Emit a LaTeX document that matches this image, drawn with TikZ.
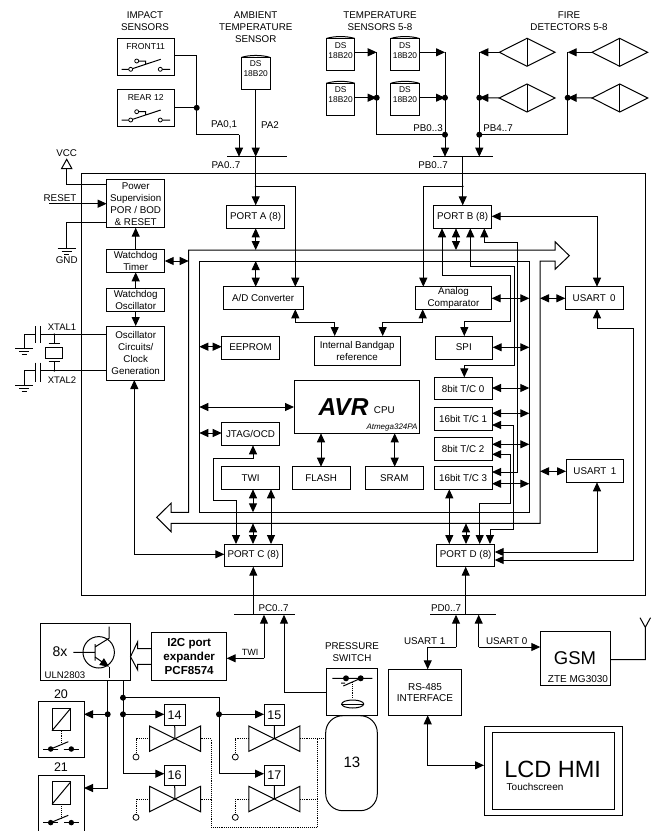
\documentclass[tikz,border=0pt]{standalone}
\usepackage{fontspec}
\setmainfont{Liberation Sans}
\usetikzlibrary{arrows.meta,calc,shapes.geometric}
\tikzset{
  x=1pt,y=-1pt,
  wire/.style={line width=1pt,line join=miter},
  ar/.style={wire,-{Triangle[length=9pt,width=8pt]}},
  db/.style={wire,{Triangle[length=9pt,width=8pt]}-{Triangle[length=9pt,width=8pt]}},
  bx/.style={draw,line width=1pt,inner sep=0pt,outer sep=0pt,align=center,font=\fontsize{9.8}{12}\selectfont},
  txt/.style={inner sep=0pt,outer sep=0pt,align=center,font=\fontsize{9.8}{12}\selectfont},
  small/.style={font=\fontsize{8.6}{10.5}\selectfont},
  jdot/.style={circle,fill=black,inner sep=0pt,minimum size=6pt},
  tinydot/.style={circle,fill=black,inner sep=0pt,minimum size=2pt},
  open/.style={draw,fill=white,line width=.8pt,circle,inner sep=0pt,minimum size=4pt},
  dot2/.style={line width=.9pt,densely dotted},
  thinl/.style={line width=1pt}
}
\newcommand\BX[7][]{\node[bx,minimum width={#5-#3},minimum height={#6-#4},#1] (#2) at ({(#3+#5)/2},{(#4+#6)/2}) {#7};}
\newcommand\TXT[5][]{\node[txt,#1] (#2) at (#3,#4) {#5};}
\newcommand\DSBOX[3]{%
  \BX{#1}{#2}{#3}{#2+28.6}{#3+32.4}{}
  \TXT[font=\fontsize{8.4}{10}\selectfont]{#1t}{#2+14.3}{#3+11.7}{DS\\18B20}
  \draw[wire] (#1.north west) .. controls ($(#1.north west)+(8,-2.6)$) and ($(#1.north east)+(-8,-2.6)$) .. (#1.north east);
}
\newcommand\FIRE[3]{%
  \node[inner sep=0pt,outer sep=0pt,minimum width=0pt] (#1) at (#2+27.7,#3) {};
  \coordinate (#1w) at (#2,#3);
  \draw[wire] (#2,#3) -- (#2+27.7,#3-14) -- (#2+55.7,#3) -- (#2+27.7,#3+14) -- cycle;
  \draw[wire] (#2+27.7,#3-14) -- (#2+27.7,#3+14);
}
\newcommand\SWITCH[1]{%
  \begin{scope}[yshift={-(#1)*1pt}]
  \draw[thinl] (121.7,69.3) -- (130.7,69.3) (133,68.5) -- (160.7,59.3) (160.3,69.3) -- (170,69.3) (136.7,61) -- (145.5,61) -- (145.5,64);
  \node[open] (sw#1a) at (130.7,69.3) {};
  \node[open] (sw#1b) at (136.7,61) {};
  \node[open] (sw#1c) at (160.3,69.3) {};
  \end{scope}
}
\newcommand\GNDSYM[3]{%
  \draw[wire] (#1-9,#2) -- (#1+9,#2);
  \draw[wire] (#1-5,#2+3) -- (#1+5,#2+3);
  \ifnum#3=1 \draw[wire] (#1-2.5,#2+6) -- (#1+2.5,#2+6);\fi
}
\newcommand\VALVE[5]{% name boxx boxy cx cy
  \BX[font=\fontsize{12.5}{14}\selectfont]{#1}{#2}{#3}{#2+20.8}{#3+20.6}{#1}
  \draw[wire] (#1.south) -- (#4,#5);
  \draw[wire] (#4-25.5,#5-12.7) -- (#4+25.5,#5+12.7) -- (#4+25.5,#5-12.7) -- (#4-25.5,#5+12.7) -- cycle;
  \draw[dot2] (#4-25.5,#5) -- (#4-39,#5) -- (#4-39,#5+15);
  \node[open,minimum size=6pt] (c#1) at (#4-39,#5+18.3) {};
}
\newcommand\RELAY[3]{% name top height
  \BX{#1}{38.3}{#2}{84}{#2+#3}{}
  \draw[wire] (52,#2+6.6) rectangle (70.7,#2+29);
  \draw[wire] (52,#2+29) -- (70.7,#2+6.6);
  \draw[dot2] (61,#2+29) -- (61,#2+43);
  \draw[thinl] (43.3,#2+47.3) -- (79.3,#2+47.3);
  \node[circle,fill=white,inner sep=0pt,minimum size=6pt] (g#1) at (61,#2+47.3) {};
  \draw[thinl] (50.7,#2+47.3) -- (68.3,#2+40);
  \node[jdot,minimum size=5.5pt] (l#1) at (50.7,#2+47.3) {};
  \node[jdot,minimum size=5.5pt] (r#1) at (71.3,#2+47.3) {};
}
\begin{document}
\begin{tikzpicture}
\useasboundingbox (0,0) rectangle (653,831);
\fill[white] (0,0) rectangle (653,831);

% outer frame
\draw[line width=1pt] (81,173.7) rectangle (645.7,595);

% buses
\draw[line width=1pt,line join=miter] (171,512.3) -- (188.7,512.3) -- (188.7,250) -- (555,250) -- (555,241.7) -- (569.3,255.7) -- (555,269.3) -- (555,261) -- (540,261) -- (540,523.3) -- (171,523.3) -- (171,531.7) -- (156.7,517.3) -- (171,503.3) -- cycle;
\draw[line width=1pt] (199.3,261) rectangle (529.3,512.3);

% titles
\TXT{t1}{145}{21}{IMPACT\\SENSORS}
\TXT{t2}{255.7}{27}{AMBIENT\\TEMPERATURE\\SENSOR}
\TXT{t3}{380}{21}{TEMPERATURE\\SENSORS 5-8}
\TXT{t4}{569}{21}{FIRE\\DETECTORS 5-8}

% sensors
\BX{front}{117.3}{38.7}{174}{75.7}{}
\TXT[small]{frontl}{145.7}{46.3}{FRONT11}
\BX{rear}{117.3}{89.3}{174}{126.3}{}
\TXT[small]{rearl}{145.7}{97}{REAR 12}
\SWITCH{0}
\SWITCH{50.7}
\DSBOX{dsa}{241.4}{57.4}
\DSBOX{dsb}{326.3}{38.5}
\DSBOX{dsc}{390.7}{38.5}
\DSBOX{dsd}{326.3}{83.3}
\DSBOX{dse}{390.7}{83.3}
\FIRE{fa}{499.3}{52.3}
\FIRE{fb}{499.3}{98}
\FIRE{fc}{592}{52.3}
\FIRE{fd}{592}{98}

% main blocks
\BX{pws}{106.7}{179.7}{164.7}{227.7}{Power\\Supervision\\POR / BOD\\\& RESET}
\BX{wdt}{106.7}{249.7}{164.7}{272.3}{Watchdog\\Timer}
\BX{wdo}{106.7}{288.3}{164.7}{311.3}{Watchdog\\Oscillator}
\BX{osc}{106.7}{326}{164.7}{380}{Oscillator\\Circuits/\\Clock\\Generation}
\BX{porta}{226.7}{205.3}{284.7}{228.3}{PORT A (8)}
\BX{portb}{433.7}{205.3}{491.7}{228.3}{PORT B (8)}
\BX{portc}{224.3}{544}{282.3}{566.7}{PORT C (8)}
\BX{portd}{436.7}{544}{494.7}{566.7}{PORT D (8)}
\BX{adc}{223.3}{286.7}{303}{309.3}{A/D Converter}
\BX{acmp}{415.3}{286.7}{491.7}{309.3}{Analog\\Comparator}
\BX{eep}{221.7}{336}{279.3}{359}{EEPROM}
\BX{bg}{314.3}{336}{400}{365.7}{Internal Bandgap\\reference}
\BX{spi}{435}{336}{492.7}{359}{SPI}
\BX{cpu}{294}{380.7}{419.3}{433.3}{}
\TXT{avr}{343.5}{406.7}{\fontsize{24.5}{25}\selectfont\bfseries\itshape AVR}
\TXT{cput}{384.3}{410}{CPU}
\TXT[anchor=east,font=\fontsize{8}{10}\selectfont\itshape]{atm}{417.5}{427.5}{Atmega324PA}
\BX{jtag}{221.7}{422.7}{279.3}{445.3}{JTAG/OCD}
\BX{twi}{221.7}{466.7}{279.3}{489.3}{TWI}
\BX{flash}{292.3}{466.7}{350}{489.3}{FLASH}
\BX{sram}{365.3}{466.7}{423.3}{489.3}{SRAM}
\BX{tc0}{434.3}{377.3}{492}{399.7}{8bit T/C 0}
\BX{tc1}{434.3}{407.3}{492}{430}{16bit T/C 1}
\BX{tc2}{434.3}{437.7}{492}{460}{8bit T/C 2}
\BX{tc3}{434.3}{466.7}{492}{489.3}{16bit T/C 3}
\BX{ua0}{565.3}{286.7}{623}{309.3}{USART\, 0}
\BX{ua1}{566}{459.7}{623.7}{482.3}{USART\, 1}

% port buses
\coordinate (pal) at (227.3,156.7); \coordinate (par) at (286.7,156.7);
\coordinate (pbl) at (433.3,156.7); \coordinate (pbr) at (493.3,156.7);
\coordinate (pcl) at (234.3,614.7); \coordinate (pcr) at (294.7,614.7);
\coordinate (pdl) at (430,614.7);   \coordinate (pdr) at (495.7,614.7);
\draw[wire] (pal) -- (par) (pbl) -- (pbr) (pcl) -- (pcr) (pdl) -- (pdr);
\TXT{la}{224}{125}{PA0,1}
\TXT{lb}{270}{125}{PA2}
\TXT{lc}{226}{165}{PA0..7}
\TXT{ld}{428}{128}{PB0..3}
\TXT{le}{498}{128}{PB4..7}
\TXT{lf}{433}{165}{PB0..7}
\TXT{lg}{273.5}{608}{PC0..7}
\TXT{lh}{446}{608}{PD0..7}

% sensor wiring
\draw[wire] (front.east |- 0,55) -- (196.7,55) -- (196.7,134.5) -- (239,134.5);
\draw[ar] (239,134.5) -- (pal -| 239,0);
\draw[wire] (rear.east) -- (196.7,107.8);
\node[jdot] (j1) at (196.7,107.8) {};
\draw[ar] (dsa.south) -- (par -| dsa.south);
\draw[ar] (pal -| dsa.south) -- (porta.north);
\node[tinydot] (j2) at (255.7,186.3) {};
\draw[ar] (j2.center) -- (295.3,186.3) -- (adc.north -| 295.3,0);

\draw[ar] (dsb.east |- 0,52.3) -- (376.7,52.3);
\draw[ar] (dsd.east |- 0,97.7) -- (376.7,97.7);
\draw[wire] (376.7,52.3) -- (376.7,134.7) -- (445,134.7);
\draw[ar] (dsc.east |- 0,52.3) -- (445,52.3);
\draw[ar] (dse.east |- 0,97.7) -- (445,97.7);
\draw[wire] (445,52.3) -- (445,134.7);
\node[jdot] (j3) at (376.7,97.7) {};
\node[jdot] (j4) at (445,97.7) {};
\node[jdot] (j5) at (445,134.7) {};
\draw[ar] (j5.center) -- (pbl -| 445,0);

\draw[ar] (faw) -- (479.3,52.3);
\draw[ar] (fbw) -- (479.3,97.7);
\draw[ar] (fcw) -- (567.7,52.3);
\draw[ar] (fdw) -- (567.7,97.7);
\draw[wire] (479.3,52.3) -- (479.3,134.7);
\draw[wire] (567.7,52.3) -- (567.7,134.7) -- (479.3,134.7);
\node[jdot] (j6) at (479.3,97.7) {};
\node[jdot] (j7) at (567.7,97.7) {};
\node[jdot] (j8) at (479.3,134.7) {};
\draw[ar] (j8.center) -- (pbl -| 479.3,0);

\draw[ar] (pbl -| portb.north) -- (portb.north);
\node[tinydot] (j9) at (462.7,186.3) {};
\draw[ar] (j9.center) -- (423.3,186.3) -- (acmp.north -| 423.3,0);

% power
\draw[line width=1pt] (61.5,168.7) -- (66.7,159.3) -- (71.9,168.7) -- cycle;
\TXT{vcc}{66.7}{153}{VCC}
\draw[wire] (66.7,168.7) -- (66.7,184) -- (pws.west |- 0,184);
\TXT{rst}{60}{198}{RESET}
\coordinate (rsts) at (49.3,203.7);
\draw[ar] (rsts) -- (pws.west |- rsts);
\draw[wire] (pws.west |- 0,222) -- (66.7,222) -- (66.7,248.3);
\GNDSYM{66.7}{248.3}{1}
\TXT{gnd}{66.7}{260.5}{GND}
\draw[ar] (wdt.north) -- (pws.south);
\draw[ar] (wdo.north) -- (wdt.south);
\draw[ar] (wdo.south) -- (osc.north);
\draw[db] (wdt.east) -- (188.7,261);

% crystal
\draw[wire] (osc.west |- 0,334.3) -- (40.7,334.3) (40.7,326) -- (40.7,343.3) (35,326) -- (35,343.3) (35,334.3) -- (24,334.3) -- (24,348.3);
\draw[wire] (osc.west |- 0,370.7) -- (40.7,370.7) (40.7,362.5) -- (40.7,381.5) (35,362.5) -- (35,381.5) (35,370.7) -- (24,370.7) -- (24,385);
\GNDSYM{24}{348.3}{1}
\GNDSYM{24}{385}{1}
\draw[wire] (54.3,334.3) -- (54.3,343.3) (48.5,343.3) -- (60,343.3) (48.5,361.7) -- (60,361.7) (54.3,361.7) -- (54.3,370.7);
\node[draw,line width=1pt,minimum width=17pt,minimum height=10.6pt,inner sep=0pt] (xt) at (54.2,353) {};
\node[tinydot] (j10) at (54.3,334.3) {};
\node[tinydot] (j11) at (54.3,370.7) {};
\TXT[font=\fontsize{9.5}{11}\selectfont]{x1}{62}{327}{XTAL1}
\TXT[font=\fontsize{9.5}{11}\selectfont]{x2}{62}{380}{XTAL2}
\draw[db] (osc.south -| 134.3,0) -- (134.3,554.3) -- (portc.west |- 0,554.3);

% left column
\draw[db] (porta.south) -- (255.7,250);
\draw[db] (255.7,261) -- (adc.north -| 255.7,0);
\draw[db] (199.3,346.7) -- (eep.west |- 0,346.7);
\draw[db] (199.3,433) -- (jtag.west |- 0,433);
\draw[db] (199.3,407) -- (cpu.west |- 0,407);
\draw[db] (cpu.south -| 321,0) -- (flash.north -| 321,0);
\draw[db] (cpu.south -| 394.7,0) -- (sram.north -| 394.7,0);
\draw[db] (adc.south -| 295.3,0) -- (295.3,322.7) -- (334.7,322.7) -- (bg.north -| 334.7,0);
\draw[db] (acmp.south -| 422.7,0) -- (422.7,322.7) -- (382.7,322.7) -- (bg.north -| 382.7,0);
\draw[db] (jtag.south -| 253,0) -- (253,458.7) -- (213.3,458.7) -- (213.3,500.7) -- (236,500.7) -- (portc.north -| 236,0);
\draw[db] (twi.south -| 253,0) -- (253,512.3);
\draw[db] (twi.south -| 271,0) -- (portc.north -| 271,0);
\draw[db] (253,523.3) -- (portc.north -| 253,0);

% port B
\draw[db] (portb.south -| 442,0) -- (442,275) -- (510,275) -- (510,321.7) -- (464.3,321.7) -- (spi.north -| 464.3,0);
\draw[db] (portb.south -| 456,0) -- (456,250);
\draw[db] (portb.south -| 470.3,0) -- (470.3,266.7) -- (514,266.7) -- (514,365.7) -- (464.3,365.7) -- (tc0.north -| 464.3,0);
\draw[db] (portb.south -| 484.3,0) -- (484.3,242.7) -- (517.3,242.7) -- (517.3,472) -- (tc3.east |- 0,472);
\draw[db] (portb.east |- 0,216.3) -- (597,216.3) -- (ua0.north -| 597,0);

% right column
\draw[db] (acmp.east |- 0,298.3) -- (529.3,298.3);
\draw[db] (spi.east |- 0,347.3) -- (529.3,347.3);
\draw[db] (tc0.east |- 0,388) -- (529.3,388);
\draw[db] (tc1.east |- 0,413.3) -- (529.3,413.3);
\draw[db] (tc2.east |- 0,444.3) -- (529.3,444.3);
\draw[db] (tc3.east |- 0,483.7) -- (529.3,483.7);
\draw[db] (tc1.east |- 0,425) -- (513.7,425) -- (513.7,529.7) -- (490,529.7) -- (portd.north -| 490,0);
\draw[db] (tc2.east |- 0,454.3) -- (510,454.3) -- (510,503.3) -- (479.7,503.3) -- (portd.north -| 479.7,0);
\draw[db] (tc3.south -| 449.3,0) -- (portd.north -| 449.3,0);
\draw[db] (466,523.3) -- (portd.north -| 466,0);
\draw[db] (540,298.3) -- (ua0.west |- 0,298.3);
\draw[db] (540,471.3) -- (ua1.west |- 0,471.3);
\draw[db] (portd.east |- 0,552) -- (597,552) -- (ua1.south -| 597,0);
\draw[db] (portd.east |- 0,560) -- (633.7,560) -- (633.7,328.3) -- (597,328.3) -- (ua0.south -| 597,0);

% below ports
\draw[ar] (pcl -| portc.south) -- (portc.south);
\draw[ar] (pdl -| portd.south) -- (portd.south);

% ULN and expander
\BX{uln}{40}{623.3}{130.3}{680.7}{}
\BX[font=\fontsize{11.6}{14}\selectfont\bfseries]{pcf}{151.7}{632.7}{226.7}{680.7}{I2C port\\expander\\PCF8574}
\TXT[font=\fontsize{14}{14}\selectfont]{x8}{60}{651.5}{8x}
\TXT[font=\fontsize{9.6}{11}\selectfont]{ulnl}{65}{675}{ULN2803}
\node[draw,circle,line width=1pt,minimum size=31.4pt,inner sep=0pt] (q) at (98.7,652.3) {};
\draw[wire] (73.3,652.3) -- (95,652.3) (95,644) -- (95,660.7) (95,647) -- (109,638.3) -- (109,626.7);
\draw[wire] (109,666.7) -- (109,678);
\draw[ar] (95,657) -- (109,666.7);
\draw[line width=1pt,line join=miter] (pcf.west |- 0,648.7) -- (137.7,648.7) -- (137.7,641.7) -- (130.5,656.7) -- (137.7,670) -- (137.7,664.3) -- (pcf.west |- 0,664.3);
\draw[ar] (264,658.3) -- (pcl -| 264,0);
\draw[ar] (264,658.3) -- (pcf.east |- 0,658.3);
\TXT[font=\fontsize{9}{11}\selectfont]{twil}{250}{652}{TWI}

% relays
\TXT[font=\fontsize{12.5}{14}\selectfont]{r20t}{61}{694}{20}
\TXT[font=\fontsize{12.5}{14}\selectfont]{r21t}{61}{767}{21}
\RELAY{rel20}{701.7}{55.6}
\RELAY{rel21}{775.3}{56}
\draw[ar] (uln.south -| 107.7,0) -- (107.7,788) -- (rel21.east |- 0,788);
\node[jdot] (j12) at (107.7,714.3) {};
\draw[ar] (j12.center) -- (rel20.east |- 0,714.3);

% valves
\VALVE{14}{164.3}{704.6}{175}{738.7}
\VALVE{15}{264}{704.6}{274.3}{738.7}
\VALVE{16}{164.3}{765}{175}{799}
\VALVE{17}{264}{765}{274.3}{799}
\draw[wire] (uln.south -| 123,0) -- (123,773.7);
\draw[ar] (123,773.7) -- (16.west |- 0,773.7);
\node[jdot] (j13) at (123,697.7) {};
\node[jdot] (j14) at (123,714.3) {};
\draw[ar] (j14.center) -- (14.west |- 0,714.3);
\draw[ar] (j13.center) -- (219,697.7) -- (219,773.7) -- (17.west |- 0,773.7);
\node[jdot] (j15) at (219,714.3) {};
\draw[ar] (j15.center) -- (15.west |- 0,714.3);
\draw[dot2] (200.5,738.7) -- (211,738.7) -- (211,827) -- (317.3,827) -- (317.3,738.7);
\draw[dot2] (200.5,799) -- (211,799);
\draw[dot2] (299.8,799) -- (317.3,799);
\draw[dot2] (299.8,738.7) -- (325.7,738.7);

% pressure switch and tank
\TXT{pst}{352}{652.5}{PRESSURE\\SWITCH}
\BX{psw}{326.7}{668.7}{377.7}{715.3}{}
\draw[ar] (psw.west |- 0,692.3) -- (284,692.3) -- (pcl -| 284,0);
\draw[thinl] (332.3,678.3) -- (372.3,678.3) (343.3,686) -- (360.7,678.3) (341,683) -- (345,683);
\node[jdot,minimum size=6pt] (pd1) at (346,678.3) {};
\node[jdot,minimum size=6pt] (pd2) at (360.7,678.3) {};
\draw[dot2] (352.7,682) -- (352.7,699);
\node[draw,ellipse,line width=1pt,minimum width=22pt,minimum height=8pt,inner sep=0pt] (dia) at (352.7,704) {};
\draw[thinl] (dia.west) -- (dia.east);
\draw[line width=1pt,rounded corners=17pt] (325.7,715.7) rectangle (377.3,810.7);
\TXT[font=\fontsize{15}{15}\selectfont]{tank}{352}{762}{13}

% RS-485, GSM, LCD
\BX[font=\fontsize{10}{11.5}\selectfont]{rs}{388.3}{669.3}{461.7}{715.3}{RS-485\\INTERFACE}
\BX{gsm}{540.3}{631.7}{610.3}{685.7}{}
\TXT[font=\fontsize{18.5}{19}\selectfont]{gsml}{575}{657.7}{GSM}
\TXT[font=\fontsize{10}{11}\selectfont]{zte}{578}{679.3}{ZTE MG3030}
\draw[wire] (gsm.east |- 0,659.7) -- (645.3,659.7) -- (645.3,627.3) (640,617.7) -- (645.3,627.3) -- (650.5,617.7);
\draw[ar] (456,647) -- (pdl -| 456,0);
\draw[wire] (456,647) -- (427.7,647);
\draw[ar] (427.7,647) -- (rs.north -| 427.7,0);
\TXT{u1}{424.7}{640.7}{USART 1}
\draw[ar] (478.7,647) -- (pdl -| 478.7,0);
\draw[ar] (478.7,647) -- (gsm.west |- 0,647);
\TXT{u0}{506.7}{640.7}{USART 0}
\BX{lcd}{484}{726}{622.7}{815.7}{}
\BX{lcdi}{492.3}{732.7}{614}{809}{}
\TXT[font=\fontsize{23.5}{24}\selectfont]{lcdt}{552.7}{769.3}{LCD HMI}
\TXT[anchor=west,font=\fontsize{10}{11}\selectfont]{touch}{506.7}{786.7}{Touchscreen}
\draw[db] (rs.south -| 427.7,0) -- (427.7,765.3) -- (lcd.west |- 0,765.3);
\end{tikzpicture}
\end{document}
